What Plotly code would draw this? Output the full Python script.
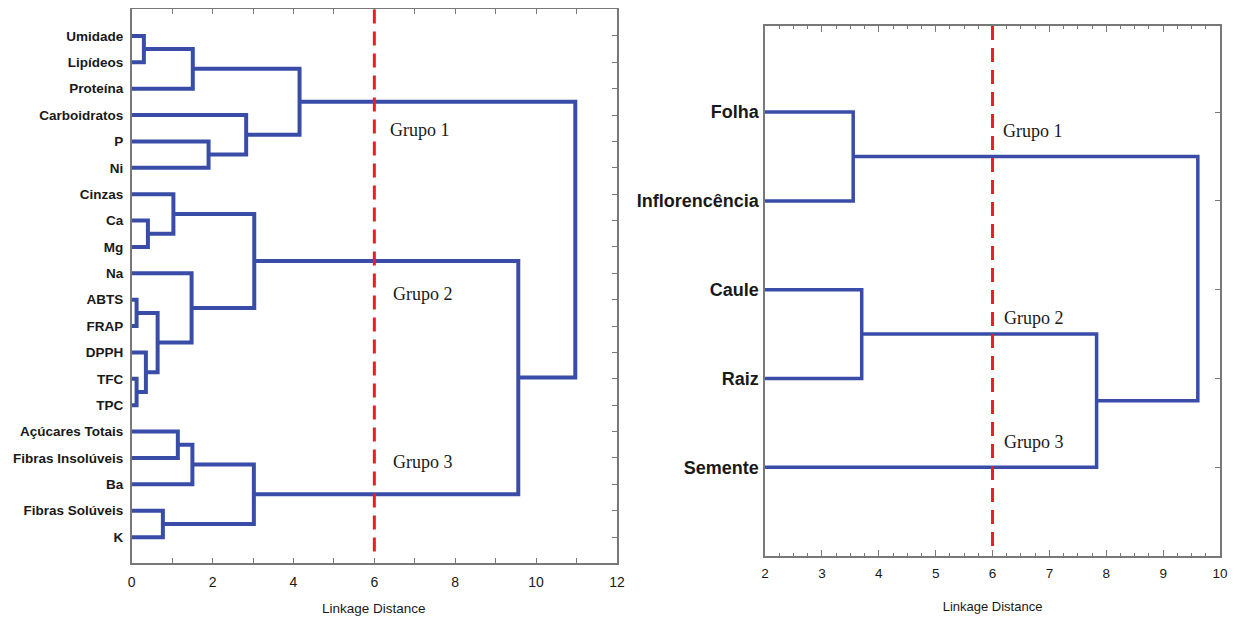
import plotly.graph_objects as go

# ---------------- data ----------------
left_leaves = ["Umidade", "Lipídeos", "Proteína", "Carboidratos", "P", "Ni",
               "Cinzas", "Ca", "Mg", "Na", "ABTS", "FRAP", "DPPH", "TFC", "TPC",
               "Açúcares Totais", "Fibras Insolúveis", "Ba", "Fibras Solúveis", "K"]
# merges (child a, child b, linkage distance); new node ids start at len(leaves)
left_merge_a = [0, 20, 4, 3, 21, 7, 6, 10, 13, 12, 27, 9, 26, 15, 33, 18, 34, 32, 24]
left_merge_b = [1, 2, 5, 22, 23, 8, 25, 11, 14, 28, 29, 30, 31, 16, 17, 19, 35, 36, 37]
left_heights = [0.30, 1.51, 1.90, 2.83, 4.15, 0.40, 1.03, 0.12, 0.12, 0.35, 0.64,
                1.48, 3.03, 1.14, 1.50, 0.77, 3.02, 9.56, 10.97]

right_leaves = ["Folha", "Inflorencência", "Caule", "Raiz", "Semente"]
right_merge_a = [0, 2, 6, 5]
right_merge_b = [1, 3, 4, 7]
right_heights = [3.55, 3.70, 7.83, 9.61]

cut_distance = 6
axis_title = "Linkage Distance"
group_labels = ["Grupo 1", "Grupo 2", "Grupo 3"]
left_group_x = [6.35, 6.42, 6.42]
left_group_y = [3.55, 9.8, 16.15]
right_group_x = [6.15, 6.17, 6.17]
right_group_y = [0.21, 2.32, 3.72]

BLUE = "rgb(57,77,168)"
RED = "rgb(235,30,40)"
AXC = "rgb(120,120,120)"
TXT = "rgb(25,25,25)"
SANS = "Liberation Sans, Arial, sans-serif"
SERIF = "Liberation Serif, Times New Roman, serif"


def dendro_path(n_leaves, ma, mb, heights, base):
    xs_pos = {i: base for i in range(n_leaves)}
    ys_pos = {i: float(i) for i in range(n_leaves)}
    X, Y = [], []
    for k, (a, b, h) in enumerate(zip(ma, mb, heights)):
        node = n_leaves + k
        X += [xs_pos[a], h, h, xs_pos[b], None]
        Y += [ys_pos[a], ys_pos[a], ys_pos[b], ys_pos[b], None]
        xs_pos[node] = h
        ys_pos[node] = (ys_pos[a] + ys_pos[b]) / 2
    return X, Y


fig = go.Figure()

lx, ly = dendro_path(len(left_leaves), left_merge_a, left_merge_b, left_heights, 0)
fig.add_trace(go.Scatter(x=lx, y=ly, mode="lines", line=dict(color=BLUE, width=4),
                         xaxis="x", yaxis="y", showlegend=False, hoverinfo="skip"))
fig.add_trace(go.Scatter(x=[cut_distance, cut_distance], y=[-1.0, 19.7], mode="lines",
                         line=dict(color=RED, width=3, dash="14px,8px"),
                         xaxis="x", yaxis="y", showlegend=False, hoverinfo="skip"))

rx, ry = dendro_path(len(right_leaves), right_merge_a, right_merge_b, right_heights, 2)
fig.add_trace(go.Scatter(x=rx, y=ry, mode="lines", line=dict(color=BLUE, width=3.5),
                         xaxis="x2", yaxis="y2", showlegend=False, hoverinfo="skip"))
fig.add_trace(go.Scatter(x=[cut_distance, cut_distance], y=[-0.97, 4.95], mode="lines",
                         line=dict(color=RED, width=3, dash="14px,8px"),
                         xaxis="x2", yaxis="y2", showlegend=False, hoverinfo="skip"))

annotations = []
for t, x, y in zip(group_labels, left_group_x, left_group_y):
    annotations.append(dict(text=t, x=x, y=y, xref="x", yref="y", xanchor="left",
                            yanchor="middle", showarrow=False,
                            font=dict(family=SERIF, size=18, color=TXT)))
for t, x, y in zip(group_labels, right_group_x, right_group_y):
    annotations.append(dict(text=t, x=x, y=y, xref="x2", yref="y2", xanchor="left",
                            yanchor="middle", showarrow=False,
                            font=dict(family=SERIF, size=18, color=TXT)))
# left axis title (placed below the tick labels)
annotations.append(dict(text=axis_title, x=0.5, y=0.0, xref="x domain", yref="paper",
                        xanchor="center", yanchor="bottom", showarrow=False,
                        font=dict(family=SANS, size=13.5, color=TXT)))

common_axis = dict(showline=True, linecolor=AXC, linewidth=1.5, mirror="ticks",
                   ticks="inside", tickcolor=AXC, showgrid=False, zeroline=False,
                   layer="below traces", automargin=False)

fig.update_layout(
    width=1224, height=610,
    margin=dict(l=0, r=0, t=0, b=0),
    paper_bgcolor="white", plot_bgcolor="white",
    annotations=annotations,
    xaxis=dict(domain=[0.1011, 0.4975], range=[0, 12], dtick=2, ticklen=5,
               minor=dict(dtick=1, ticks="inside", ticklen=5, tickcolor=AXC),
               tickfont=dict(family=SANS, size=14, color=TXT), ticklabelstandoff=5,
               anchor="y", **common_axis),
    yaxis=dict(domain=[0.0902, 0.9984], range=[19.98, -1.02],
               tickvals=list(range(len(left_leaves))), ticktext=left_leaves,
               ticklen=5, ticklabelstandoff=4,
               tickfont=dict(family=SANS, size=13.5, color=TXT, weight="bold"),
               anchor="x", **common_axis),
    xaxis2=dict(domain=[0.6185, 0.9902], range=[2, 10], dtick=1, ticklen=6,
                minor=dict(dtick=0.25, ticks="inside", ticklen=3, tickcolor=AXC),
                tickfont=dict(family=SANS, size=13.5, color=TXT), ticklabelstandoff=4,
                title=dict(text=axis_title, standoff=22,
                           font=dict(family=SANS, size=13, color=TXT)),
                anchor="y2", **common_axis),
    yaxis2=dict(domain=[0.1016, 0.9705], range=[5.0, -0.97],
                tickvals=list(range(len(right_leaves))), ticktext=right_leaves,
                ticklen=5, ticklabelstandoff=1,
                tickfont=dict(family=SANS, size=18, color=TXT, weight="bold"),
                anchor="x2", **common_axis),
)

fig.write_html("out.html")
